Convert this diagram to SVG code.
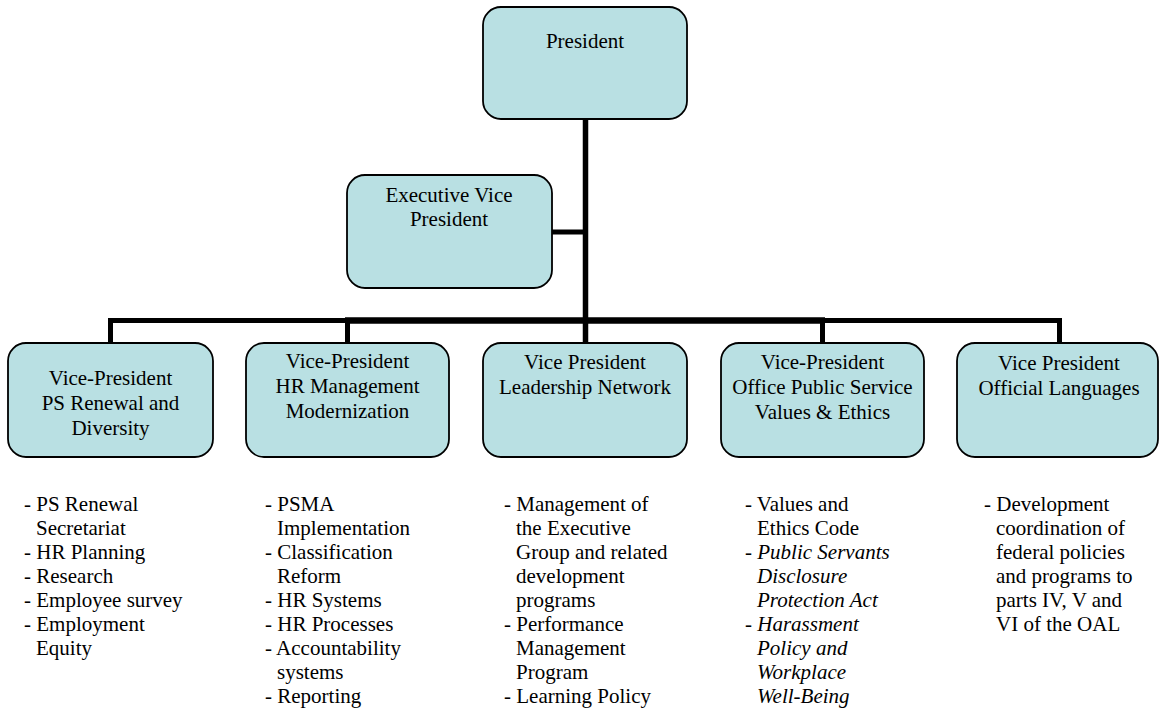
<svg xmlns="http://www.w3.org/2000/svg" width="1159" height="715" viewBox="0 0 1159 715">
<style>
.box{fill:#B9E0E3;stroke:#000;stroke-width:1.8}
.t{font-family:"Liberation Serif","Times New Roman",serif;font-size:21px;fill:#000}
.c{text-anchor:middle}
.i{font-style:italic}
.ln{stroke:#000;fill:none;stroke-linecap:butt}
</style>
<rect width="1159" height="715" fill="#fff"/>
<g id="connectors">
<line class="ln" x1="585.5" y1="119" x2="585.5" y2="320" stroke-width="5.5"/>
<line class="ln" x1="552" y1="232" x2="586" y2="232" stroke-width="5"/>
<line class="ln" x1="108" y1="320.5" x2="347.5" y2="320.5" stroke-width="5"/>
<line class="ln" x1="345" y1="320.5" x2="825" y2="320.5" stroke-width="6.5"/>
<line class="ln" x1="822.5" y1="320.5" x2="1062" y2="320.5" stroke-width="5"/>
<line class="ln" x1="110.5" y1="318" x2="110.5" y2="343" stroke-width="5"/>
<line class="ln" x1="347.5" y1="318" x2="347.5" y2="343" stroke-width="5"/>
<line class="ln" x1="585.5" y1="318" x2="585.5" y2="343" stroke-width="5.5"/>
<line class="ln" x1="822.5" y1="318" x2="822.5" y2="343" stroke-width="5"/>
<line class="ln" x1="1059.5" y1="318" x2="1059.5" y2="343" stroke-width="5"/>
</g>
<g id="president">
<rect class="box" x="483" y="7" width="204" height="112" rx="18"/>
<text class="t c" x="585" y="48">President</text>
</g>
<g id="exec-vp">
<rect class="box" x="347" y="175" width="205" height="113" rx="18"/>
<text class="t c" x="449" y="202">Executive Vice</text>
<text class="t c" x="449" y="226">President</text>
</g>
<g id="vp1">
<rect class="box" x="8" y="343" width="205" height="114" rx="18"/>
<text class="t c" x="110.5" y="385">Vice-President</text>
<text class="t c" x="110.5" y="410">PS Renewal and</text>
<text class="t c" x="110.5" y="435">Diversity</text>
</g>
<g id="vp2">
<rect class="box" x="246" y="343" width="203" height="114" rx="18"/>
<text class="t c" x="347.5" y="368">Vice-President</text>
<text class="t c" x="347.5" y="393">HR Management</text>
<text class="t c" x="347.5" y="418">Modernization</text>
</g>
<g id="vp3">
<rect class="box" x="483" y="343" width="204" height="114" rx="18"/>
<text class="t c" x="585" y="369">Vice President</text>
<text class="t c" x="585" y="394">Leadership Network</text>
</g>
<g id="vp4">
<rect class="box" x="721" y="343" width="203" height="114" rx="18"/>
<text class="t c" x="822.5" y="369">Vice-President</text>
<text class="t c" x="822.5" y="394">Office Public Service</text>
<text class="t c" x="822.5" y="419">Values &amp; Ethics</text>
</g>
<g id="vp5">
<rect class="box" x="957" y="343" width="201" height="114" rx="18"/>
<text class="t c" x="1059" y="370">Vice President</text>
<text class="t c" x="1059" y="395">Official Languages</text>
</g>
<g id="list1">
<text class="t" x="24" y="511">- PS Renewal</text>
<text class="t" x="36" y="535">Secretariat</text>
<text class="t" x="24" y="559">- HR Planning</text>
<text class="t" x="24" y="583">- Research</text>
<text class="t" x="24" y="607">- Employee survey</text>
<text class="t" x="24" y="631">- Employment</text>
<text class="t" x="36" y="655">Equity</text>
</g>
<g id="list2">
<text class="t" x="265" y="511">- PSMA</text>
<text class="t" x="277" y="535">Implementation</text>
<text class="t" x="265" y="559">- Classification</text>
<text class="t" x="277" y="583">Reform</text>
<text class="t" x="265" y="607">- HR Systems</text>
<text class="t" x="265" y="631">- HR Processes</text>
<text class="t" x="265" y="655">- Accountability</text>
<text class="t" x="277" y="679">systems</text>
<text class="t" x="265" y="703">- Reporting</text>
</g>
<g id="list3">
<text class="t" x="504" y="511">- Management of</text>
<text class="t" x="516" y="535">the Executive</text>
<text class="t" x="516" y="559">Group and related</text>
<text class="t" x="516" y="583">development</text>
<text class="t" x="516" y="607">programs</text>
<text class="t" x="504" y="631">- Performance</text>
<text class="t" x="516" y="655">Management</text>
<text class="t" x="516" y="679">Program</text>
<text class="t" x="504" y="703">- Learning Policy</text>
</g>
<g id="list4">
<text class="t" x="745" y="511">- Values and</text>
<text class="t" x="757" y="535">Ethics Code</text>
<text class="t" x="745" y="559">- <tspan class="i">Public Servants</tspan></text>
<text class="t i" x="757" y="583">Disclosure</text>
<text class="t i" x="757" y="607">Protection Act</text>
<text class="t" x="745" y="631">- <tspan class="i">Harassment</tspan></text>
<text class="t i" x="757" y="655">Policy and</text>
<text class="t i" x="757" y="679">Workplace</text>
<text class="t i" x="757" y="703">Well-Being</text>
</g>
<g id="list5">
<text class="t" x="984" y="511">- Development</text>
<text class="t" x="996" y="535">coordination of</text>
<text class="t" x="996" y="559">federal policies</text>
<text class="t" x="996" y="583">and programs to</text>
<text class="t" x="996" y="607">parts IV, V and</text>
<text class="t" x="996" y="631">VI of the OAL</text>
</g>
</svg>
